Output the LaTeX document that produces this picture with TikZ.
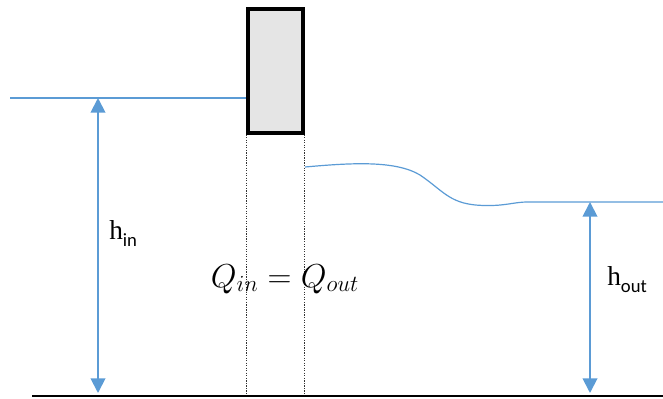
\documentclass[tikz,border=0pt]{standalone}
\usepackage{fontspec}
\setmainfont{Liberation Serif}
\newfontfamily\subfont{Carlito}
\usetikzlibrary{arrows.meta, positioning}
\definecolor{waterblue}{HTML}{5B9BD5}
\tikzset{
    >=Latex,
    gate_box/.style={
        rectangle,
        draw=black,
        fill=gray!20,
        line width=2.4pt,
        minimum width=41.25pt,
        minimum height=93pt,
        inner sep=0pt
    },
    water_line/.style={
        draw=waterblue,
        line width=0.9pt
    },
    ground_line/.style={
        draw=black,
        line width=1.9pt
    },
    gate_guide/.style={
        draw=black!80,
        densely dotted,
        line width=0.9pt
    },
    depth_arrow/.style={
        {Triangle[width=11pt, length=11pt]}-{Triangle[width=11pt, length=11pt]},
        draw=waterblue,
        fill=waterblue,
        line width=1.4pt
    },
    depth_label/.style={
        font=\fontsize{20.5}{22}\selectfont,
        inner sep=0pt,
        anchor=base west
    },
    flow_label/.style={
        font=\fontsize{23}{26}\selectfont,
        inner sep=0pt,
        anchor=base
    }
}
\newcommand{\depthname}[1]{h\raisebox{-5.5pt}{\fontsize{14}{15}\subfont #1}}

\begin{document}
\begin{tikzpicture}[x=0.75pt, y=-0.75pt]
\useasboundingbox (0,0) rectangle (663,399);

% --- Reference points ---
\coordinate (ground_left) at (32,396);
\coordinate (ground_right) at (663,396);
\coordinate (up_left) at (10,98);
\coordinate (up_gate) at (247,98);
\coordinate (down_start) at (305,167);
\coordinate (down_flat) at (527,202);
\coordinate (down_end) at (663,202);
\coordinate (in_top) at (98,98);
\coordinate (in_bot) at (98,393);
\coordinate (out_top) at (590,202);
\coordinate (out_bot) at (590,393);

% --- Water surfaces ---
\draw[water_line] (up_left) -- (up_gate);
\draw[water_line] (down_start) .. controls (350,163) and (395,160) .. (420,175)
  .. controls (445,192) and (450,205) .. (485,205.5)
  .. controls (505,206) and (515,202) .. (down_flat) -- (down_end);

% --- Gate ---
\node[gate_box] (gate) at (275.5,71) {};
\draw[gate_guide] (gate.south west) -- (gate.south west |- ground_left);
\draw[gate_guide] (gate.south east) -- (gate.south east |- ground_left);

% --- Ground ---
\draw[ground_line] (ground_left) -- (ground_right);

% --- Depths ---
\draw[depth_arrow] (in_bot) -- (in_top);
\draw[depth_arrow] (out_bot) -- (out_top);
\node[depth_label] (hin) at (109,239) {\depthname{in}};
\node[depth_label] (hout) at (607,285) {\depthname{out}};
\node[flow_label] (flow) at (285,287) {$Q_{in} = Q_{out}$};

\end{tikzpicture}
\end{document}
